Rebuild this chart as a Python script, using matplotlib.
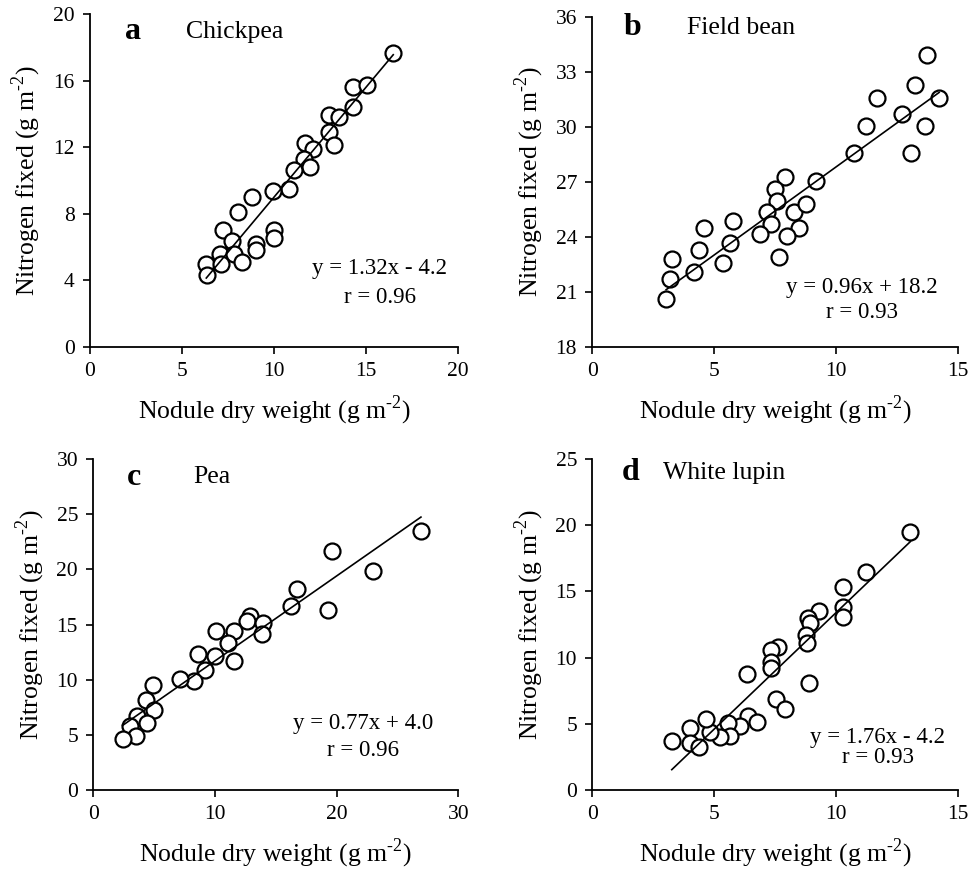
import matplotlib
matplotlib.use("Agg")
import matplotlib.pyplot as plt
import numpy as np

plt.rcParams['font.family'] = ['Liberation Serif', 'DejaVu Serif']
plt.rcParams['mathtext.fontset'] = 'custom'
plt.rcParams['mathtext.rm'] = 'Liberation Serif'

# Panel a: Chickpea
a_x = [16.48, 14.28, 15.06, 14.28, 12.99, 13.52, 12.99, 13.25, 11.71, 12.12, 11.62, 11.98,
       11.07, 10.83, 9.95, 8.78, 8.02, 7.22, 7.73, 7.08, 7.80, 8.24, 9.02, 9.02, 9.98, 9.98,
       6.32, 7.13, 6.35]
a_y = [17.64, 15.63, 15.73, 14.43, 13.93, 13.83, 12.93, 12.12, 12.26, 11.92, 11.32, 10.82,
       10.66, 9.46, 9.38, 8.98, 8.10, 7.01, 6.37, 5.57, 5.57, 5.11, 6.17, 5.81, 7.05, 6.57,
       5.01, 4.97, 4.31]

# Panel b: Field bean
b_x = [13.76, 13.25, 14.24, 13.66, 13.07, 12.70, 11.70, 11.22, 10.74, 9.20, 7.93, 7.49, 7.59,
       7.17, 7.35, 6.90, 8.27, 8.79, 8.48, 7.99, 7.65, 5.78, 5.64, 4.57, 4.40, 5.35, 4.16,
       3.28, 3.17, 3.03]
b_y = [33.91, 32.27, 31.55, 30.04, 28.55, 30.69, 31.55, 30.04, 28.55, 27.04, 27.27, 26.60,
       25.95, 25.33, 24.69, 24.15, 25.36, 25.76, 24.45, 24.04, 22.87, 24.87, 23.67, 24.45,
       23.27, 22.55, 22.09, 22.76, 21.67, 20.58]

# Panel c: Pea
c_x = [26.93, 19.59, 23.01, 19.32, 16.77, 16.25, 12.88, 12.66, 13.97, 13.84, 10.08, 11.56,
       11.10, 11.56, 10.00, 8.63, 9.18, 8.27, 7.12, 4.93, 4.33, 5.01, 3.56, 3.01, 4.38, 3.51,
       2.41]
c_y = [23.48, 21.67, 19.85, 16.27, 18.24, 16.67, 15.76, 15.30, 15.15, 14.15, 14.45, 14.39,
       13.33, 11.67, 12.18, 12.36, 10.91, 9.85, 10.06, 9.55, 8.12, 7.21, 6.67, 5.76, 6.06,
       4.91, 4.61]

# Panel d: White lupin
d_x = [13.05, 11.21, 10.27, 10.27, 10.27, 9.30, 8.85, 8.92, 8.78, 8.81, 8.88, 7.60, 7.33,
       7.33, 7.33, 7.53, 7.92, 6.34, 6.38, 6.75, 6.04, 5.55, 5.63, 5.22, 4.81, 4.67, 4.01,
       3.99, 4.36, 3.26]
d_y = [19.52, 16.50, 15.31, 13.85, 13.10, 13.53, 12.97, 12.59, 11.71, 11.13, 8.06, 10.78,
       10.58, 9.70, 9.19, 6.85, 6.10, 8.77, 5.62, 5.16, 4.84, 5.09, 4.08, 4.03, 4.41, 5.34,
       4.66, 3.53, 3.27, 3.73]

letters = ['a', 'b', 'c', 'd']
species = ['Chickpea', 'Field bean', 'Pea', 'White lupin']
slopes = [1.32, 0.96, 0.77, 1.76]
intercepts = [-4.2, 18.2, 4.0, -4.2]
equations = ['y = 1.32x - 4.2', 'y = 0.96x + 18.2', 'y = 0.77x + 4.0', 'y = 1.76x - 4.2']
r_texts = ['r = 0.96', 'r = 0.93', 'r = 0.96', 'r = 0.93']
xlims = [(0, 20), (0, 15), (0, 30), (0, 15)]
ylims = [(0, 20), (18, 36), (0, 30), (0, 25)]
xticks = [[0, 5, 10, 15, 20], [0, 5, 10, 15], [0, 10, 20, 30], [0, 5, 10, 15]]
yticks = [[0, 4, 8, 12, 16, 20], [18, 21, 24, 27, 30, 33, 36], [0, 5, 10, 15, 20, 25, 30],
          [0, 5, 10, 15, 20, 25]]
xlabel = 'Nodule dry weight (g m$^{\\text{-}2}$)'
ylabel = 'Nitrogen fixed (g m$^{\\text{-}2}$)'

xs = [a_x, b_x, c_x, d_x]
ys = [a_y, b_y, c_y, d_y]

W, H = 976, 877
fig = plt.figure(figsize=(W / 100, H / 100), dpi=100)

# axes boxes in pixels: (left, right, top, bottom)
boxes = [(90, 458, 14, 347), (592.3, 957.7, 16.7, 346.7),
         (93.3, 458.3, 459, 790), (592.3, 958, 459, 790)]

letter_pos = [(0.095, 0.946), (0.085, 0.966), (0.093, 0.945), (0.08, 0.958)]
name_pos = [0.262, 0.258, 0.274, 0.194]
eq_pos = [(0.788, 0.237, 0.150), (0.737, 0.180, 0.105), (0.74, 0.20, 0.12), (0.78, 0.16, 0.097)]

for i in range(4):
    l, r, t, b = boxes[i]
    ax = fig.add_axes([l / W, 1 - b / H, (r - l) / W, (b - t) / H])
    x = np.array(xs[i])
    y = np.array(ys[i])
    ax.plot(x, y, linestyle='none', marker='o', markersize=11.5, markerfacecolor='white',
            markeredgecolor='black', markeredgewidth=1.6, zorder=3)
    lx = np.array([x.min(), x.max()])
    ax.plot(lx, slopes[i] * lx + intercepts[i], color='black', lw=1.2, zorder=4)
    ax.set_xlim(*xlims[i])
    ax.set_ylim(*ylims[i])
    ax.set_xticks(xticks[i])
    ax.set_yticks(yticks[i])
    ax.spines['top'].set_visible(False)
    ax.spines['right'].set_visible(False)
    for s in ['left', 'bottom']:
        ax.spines[s].set_linewidth(1.3)
    ax.tick_params(direction='out', length=5, width=1.2, labelsize=15.5, pad=6)
    ax.set_xlabel(xlabel, fontsize=18.5, labelpad=9)
    ax.set_ylabel(ylabel, fontsize=18.5, labelpad=7)
    lxp, lyp = letter_pos[i]
    ax.text(lxp, lyp, letters[i], transform=ax.transAxes, fontsize=23, fontweight='bold',
            va='center', ha='left')
    ax.text(name_pos[i], lyp, species[i], transform=ax.transAxes, fontsize=18.5,
            va='center', ha='left')
    ex, ey, ry = eq_pos[i]
    ax.text(ex, ey, equations[i], transform=ax.transAxes, fontsize=16.5, va='center', ha='center')
    ax.text(ex, ry, r_texts[i], transform=ax.transAxes, fontsize=16.5, va='center', ha='center')

fig.savefig('out.png', dpi=100)
